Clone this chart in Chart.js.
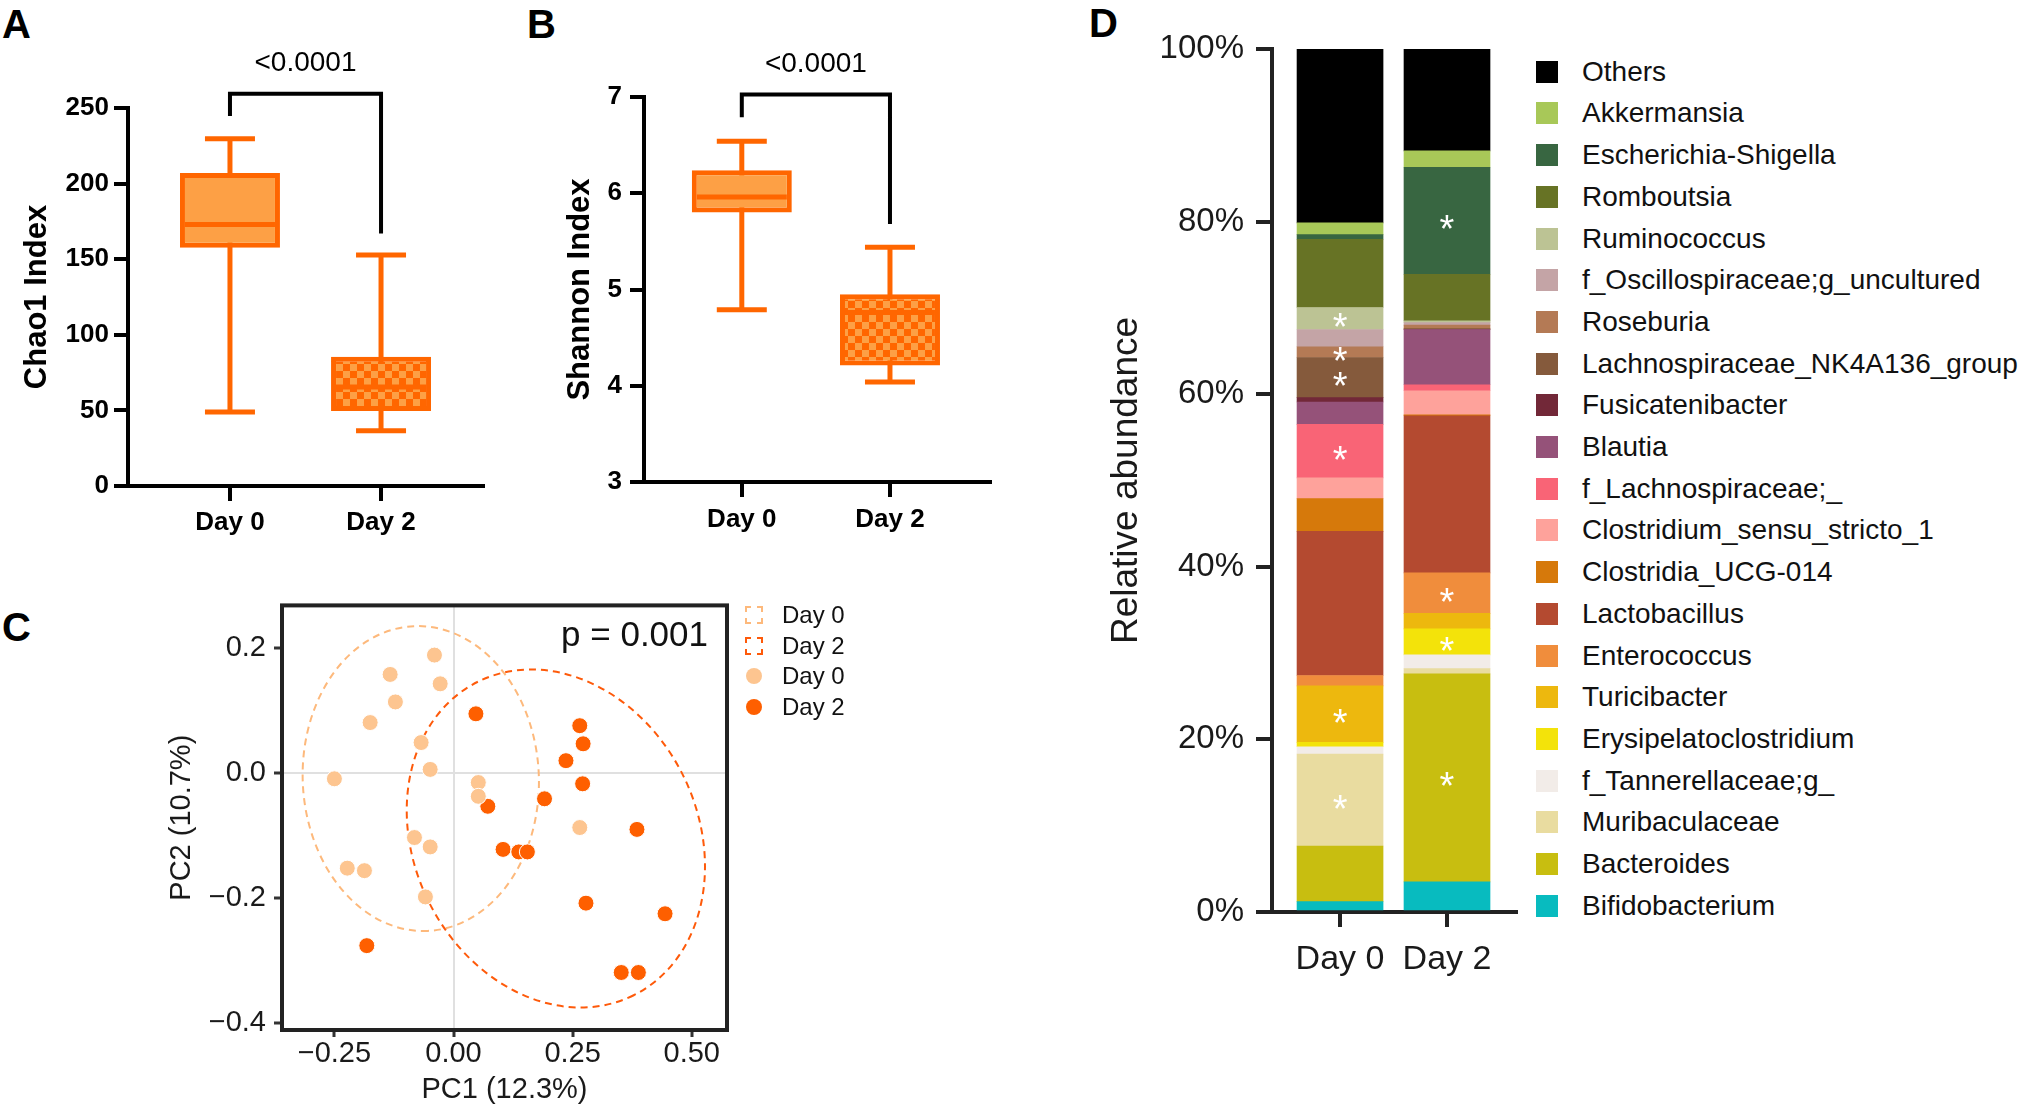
<!DOCTYPE html>
<html>
<head>
<meta charset="utf-8">
<title>Diversity and composition, Day 0 vs Day 2</title>
<script src="https://cdn.jsdelivr.net/npm/chart.js@4.4.1/dist/chart.umd.min.js"></script>
<style>
	body { margin: 0; width: 2040px; height: 1111px; position: relative; overflow: hidden; background: #ffffff; font-family: "Liberation Sans", Arial, sans-serif; }
	canvas { position: absolute; }
	.letter { position: absolute; font-weight: bold; font-size: 40px; line-height: 40px; color: #000; }
	.row { position: absolute; white-space: nowrap; }
	.mark { position: absolute; box-sizing: border-box; }
</style>
</head>
<body>
<div class="letter" style="left:2px;top:4px">A</div>
<div class="letter" style="left:527px;top:4px">B</div>
<div class="letter" style="left:2px;top:607px">C</div>
<div class="letter" style="left:1089px;top:3px">D</div>
<canvas id="chao" width="540" height="560" style="left:0;top:0"></canvas>
<canvas id="shannon" width="500" height="560" style="left:540px;top:0"></canvas>
<canvas id="pcoa" width="640" height="531" style="left:150px;top:580px"></canvas>
<canvas id="abundance" width="450" height="1000" style="left:1085px;top:0"></canvas>
<div id="pcoa-legend"></div>
<div id="abundance-legend"></div>
<script>
/* data */

var boxGroups = ['Day 0', 'Day 2'];

var chaoMin = [48.9, 36.6];
var chaoQ1 = [157.5, 49.6];
var chaoMedian = [173, 65.4];
var chaoQ3 = [207, 85.5];
var chaoMax = [229.7, 152.7];
var chaoTicks = [0, 50, 100, 150, 200, 250];
var chaoBracket = [244.7, 259.5, 167];
var chaoP = '<0.0001';

var shannonMin = [4.79, 4.04];
var shannonQ1 = [5.80, 4.21];
var shannonMedian = [5.96, 4.76];
var shannonQ3 = [6.24, 4.95];
var shannonMax = [6.54, 5.44];
var shannonTicks = [3, 4, 5, 6, 7];
var shannonBracket = [6.79, 7.025, 5.68];
var shannonP = '<0.0001';

var pcoaDay0X = [-0.040, -0.133, -0.028, -0.122, -0.175, -0.068, -0.049, -0.250, 0.052, 0.052, -0.082, -0.049, -0.223, -0.187, -0.059, 0.265];
var pcoaDay0Y = [0.188, 0.157, 0.142, 0.113, 0.080, 0.048, 0.005, -0.010, -0.016, -0.038, -0.104, -0.119, -0.153, -0.157, -0.199, -0.088];
var pcoaDay2X = [0.047, 0.072, 0.104, 0.137, 0.155, -0.182, 0.191, 0.265, 0.272, 0.236, 0.271, 0.385, 0.278, 0.444, 0.352, 0.388];
var pcoaDay2Y = [0.094, -0.054, -0.123, -0.127, -0.127, -0.277, -0.042, 0.075, 0.046, 0.019, -0.018, -0.091, -0.209, -0.226, -0.320, -0.320];
var pcoaXTicks = [-0.25, 0, 0.25, 0.5];
var pcoaXTickLabels = ['\u22120.25', '0.00', '0.25', '0.50'];
var pcoaYTicks = [0.2, 0, -0.2, -0.4];
var pcoaYTickLabels = ['0.2', '0.0', '\u22120.2', '\u22120.4'];
var pcoaP = 'p = 0.001';

// ellipse per group: centre, half extent in x and y, x shift of the top point
var ellipseCenterX = [-0.0687, 0.2148];
var ellipseCenterY = [-0.0096, -0.1055];
var ellipseHalfWidth = [0.248, 0.313];
var ellipseHalfHeight = [0.244, 0.2705];
var ellipseTopShift = [-0.0059, -0.0518];

var barGroups = ['Day 0', 'Day 2'];
var genera = ['Bifidobacterium', 'Bacteroides', 'Muribaculaceae', 'f_Tannerellaceae;g_', 'Erysipelatoclostridium', 'Turicibacter', 'Enterococcus', 'Lactobacillus', 'Clostridia_UCG-014', 'Clostridium_sensu_stricto_1', 'f_Lachnospiraceae;_', 'Blautia', 'Fusicatenibacter', 'Lachnospiraceae_NK4A136_group', 'Roseburia', 'f_Oscillospiraceae;g_uncultured', 'Ruminococcus', 'Romboutsia', 'Escherichia-Shigella', 'Akkermansia', 'Others'];
var abundanceDay0 = [1.2, 6.45, 10.65, 0.85, 0.5, 6.55, 1.2, 16.7, 3.8, 2.4, 6.2, 2.6, 0.5, 4.65, 1.25, 2.0, 2.55, 7.9, 0.55, 1.35, 20.15];
var abundanceDay2 = [3.5, 24.1, 0.6, 1.6, 3.0, 1.8, 4.7, 18.2, 0.1, 2.8, 0.7, 6.4, 0.03, 0.07, 0.4, 0.3, 0.2, 5.4, 12.4, 1.9, 11.8];
var generaColors = ['#08bbbf', '#c8be10', '#e9dca0', '#f2ece8', '#f3e30a', '#edb80e', '#f08d3c', '#b44a30', '#d6790b', '#fea29b', '#f96476', '#955279', '#722838', '#855a3c', '#b47a55', '#c4a4a6', '#bcc394', '#677325', '#386641', '#a8c858', '#000000'];
var starredDay0 = ['Ruminococcus', 'Roseburia', 'Lachnospiraceae_NK4A136_group', 'f_Lachnospiraceae;_', 'Turicibacter', 'Muribaculaceae'];
var starredDay2 = ['Escherichia-Shigella', 'Enterococcus', 'Erysipelatoclostridium', 'Bacteroides'];
var abundanceTicks = [0, 20, 40, 60, 80, 100];

/* common */

var fontFamily = '"Liberation Sans", Arial, sans-serif';
Chart.defaults.font.family = fontFamily;
Chart.defaults.animation = false;
Chart.defaults.events = [];
Chart.defaults.plugins.legend.display = false;
Chart.defaults.plugins.tooltip.enabled = false;

var orange = '#ff6600';
var peach = '#fda045';
var day0Color = '#fdc590';
var day2Color = '#fe5f00';
var day0Line = '#fdb97c';
var day2Line = '#fe5a0a';

var setTicks = function(values) {
	return function(axis) {
		axis.ticks = values.map(function(v) { return { value: v }; });
	};
};

var checker = function(ctx, base, square, size) {
	var tile = document.createElement('canvas');
	tile.width = size * 2;
	tile.height = size * 2;
	var g = tile.getContext('2d');
	g.fillStyle = base;
	g.fillRect(0, 0, size * 2, size * 2);
	g.fillStyle = square;
	g.fillRect(0, 0, size, size);
	g.fillRect(size, size, size, size);
	return ctx.createPattern(tile, 'repeat');
};

/* box plots */

var bracket = function(levels, label) {
	return {
		id: 'bracket',
		afterDraw: function(chart) {
			var ctx = chart.ctx;
			var x0 = chart.scales.x.getPixelForValue(0);
			var x1 = chart.scales.x.getPixelForValue(1);
			var yLeft = chart.scales.y.getPixelForValue(levels[0]);
			var yTop = chart.scales.y.getPixelForValue(levels[1]);
			var yRight = chart.scales.y.getPixelForValue(levels[2]);
			ctx.save();
			ctx.strokeStyle = '#000';
			ctx.lineWidth = 4;
			ctx.beginPath();
			ctx.moveTo(x0, yLeft);
			ctx.lineTo(x0, yTop);
			ctx.lineTo(x1, yTop);
			ctx.lineTo(x1, yRight);
			ctx.stroke();
			ctx.fillStyle = '#000';
			ctx.font = '28px ' + fontFamily;
			ctx.textAlign = 'center';
			ctx.textBaseline = 'middle';
			ctx.fillText(label, (x0 + x1) / 2, yTop - 30);
			ctx.restore();
		}
	};
};

var boxDatasets = function(lows, q1s, medians, q3s, highs, fills) {
	var caps = [];
	for (var i = 0; i < lows.length; i++) {
		caps.push({ x: i, y: lows[i] });
		caps.push({ x: i, y: highs[i] });
	}
	return [
		{ type: 'scatter', data: medians.map(function(m, i) { return { x: i, y: m }; }), pointStyle: 'line', pointRadius: 45, pointBorderColor: orange, pointBorderWidth: 5, showLine: false, order: 1 },
		{ type: 'scatter', data: caps, pointStyle: 'line', pointRadius: 25, pointBorderColor: orange, pointBorderWidth: 5, showLine: false, order: 1 },
		{ type: 'bar', data: q1s.map(function(q, i) { return { x: i, y: [q, q3s[i]] }; }), backgroundColor: fills, borderColor: orange, borderWidth: 5, borderSkipped: false, grouped: false, maxBarThickness: 100, order: 2 },
		{ type: 'bar', data: lows.map(function(l, i) { return { x: i, y: [l, highs[i]] }; }), backgroundColor: orange, borderWidth: 0, grouped: false, maxBarThickness: 5, order: 3 }
	];
};

var boxChart = function(id, datasets, yTicks, yMin, yMax, xMin, xMax, title, plugin, g) {
	var bold = { size: 26, weight: 'bold' };
	return new Chart(document.getElementById(id), {
		type: 'bar',
		data: { datasets: datasets },
		options: {
			responsive: false,
			layout: { padding: { left: 0, top: g.top, right: g.right, bottom: 0 } },
			scales: {
				x: {
					type: 'linear', min: xMin, max: xMax, offset: false,
					afterBuildTicks: setTicks([0, 1]),
					afterFit: function(s) { s.height = g.xHeight; },
					ticks: { callback: function(v, i) { return boxGroups[i]; }, font: bold, color: '#000', padding: g.xPad },
					grid: { offset: false, drawOnChartArea: false, color: '#000', lineWidth: 4, tickLength: 15 },
					border: { color: '#000', width: 4 }
				},
				y: {
					min: yMin, max: yMax,
					afterBuildTicks: setTicks(yTicks),
					afterFit: function(s) { s.width = g.yWidth; },
					ticks: { callback: function(v) { return String(v); }, font: bold, color: '#000', padding: g.yPad },
					grid: { drawOnChartArea: false, color: '#000', lineWidth: 4, tickLength: 14 },
					border: { color: '#000', width: 4 },
					title: { display: true, text: title, font: { size: 31, weight: 'bold' }, color: '#000', padding: { top: g.titlePad, bottom: 0 } }
				}
			}
		},
		plugins: [plugin]
	});
};

var chaoCtx = document.getElementById('chao').getContext('2d');
boxChart('chao', boxDatasets(chaoMin, chaoQ1, chaoMedian, chaoQ3, chaoMax, [peach, checker(chaoCtx, orange, peach, 7)]),
	chaoTicks, 0, 250, -0.675, 1.675, 'Chao1 Index', bracket(chaoBracket, chaoP),
	{ top: 108, right: 57, xHeight: 74, yWidth: 128, xPad: 6, yPad: 5, titlePad: 19 });

var shannonCtx = document.getElementById('shannon').getContext('2d');
boxChart('shannon', boxDatasets(shannonMin, shannonQ1, shannonMedian, shannonQ3, shannonMax, [peach, checker(shannonCtx, orange, peach, 7)]),
	shannonTicks, 3, 7, -0.66, 1.675, 'Shannon Index', bracket(shannonBracket, shannonP),
	{ top: 97, right: 36, xHeight: 78, yWidth: 104, xPad: 7, yPad: 8, titlePad: 22 });

/* PCoA */

var drawEllipse = function(chart, i, color) {
	var xs = chart.scales.x;
	var ys = chart.scales.y;
	var ctx = chart.ctx;
	var cx = xs.getPixelForValue(ellipseCenterX[i]);
	var cy = ys.getPixelForValue(ellipseCenterY[i]);
	var w = Math.abs(xs.getPixelForValue(ellipseCenterX[i] + ellipseHalfWidth[i]) - cx);
	var h = Math.abs(ys.getPixelForValue(ellipseCenterY[i] + ellipseHalfHeight[i]) - cy);
	var shift = xs.getPixelForValue(ellipseCenterX[i] + ellipseTopShift[i]) - cx;
	var sxx = w * w;
	var syy = h * h;
	var sxy = -shift * h;
	var tr = sxx + syy;
	var disc = Math.sqrt(tr * tr / 4 - (sxx * syy - sxy * sxy));
	var theta = 0.5 * Math.atan2(2 * sxy, sxx - syy);
	ctx.save();
	ctx.strokeStyle = color;
	ctx.lineWidth = 2;
	ctx.setLineDash([7, 5]);
	ctx.beginPath();
	ctx.ellipse(cx, cy, Math.sqrt(tr / 2 + disc), Math.sqrt(tr / 2 - disc), theta, 0, Math.PI * 2);
	ctx.stroke();
	ctx.restore();
};

var pcoaExtras = {
	id: 'pcoaExtras',
	beforeDatasetsDraw: function(chart) {
		drawEllipse(chart, 0, day0Line);
		drawEllipse(chart, 1, day2Line);
	},
	afterDraw: function(chart) {
		var a = chart.chartArea;
		var ctx = chart.ctx;
		ctx.save();
		ctx.strokeStyle = '#222';
		ctx.lineWidth = 4;
		ctx.strokeRect(a.left, a.top, a.right - a.left, a.bottom - a.top);
		ctx.fillStyle = '#111';
		ctx.font = '35px ' + fontFamily;
		ctx.textAlign = 'right';
		ctx.textBaseline = 'middle';
		ctx.fillText(pcoaP, a.right - 19, a.top + 31);
		ctx.restore();
	}
};

var zeroLine = function(c) {
	return c.tick && c.tick.value === 0 ? '#e0e0e0' : 'rgba(0,0,0,0)';
};

var toPoints = function(xs, ys) {
	return xs.map(function(x, i) { return { x: x, y: ys[i] }; });
};

new Chart(document.getElementById('pcoa'), {
	type: 'scatter',
	data: {
		datasets: [
			{ label: 'Day 0', data: toPoints(pcoaDay0X, pcoaDay0Y), backgroundColor: day0Color, borderColor: '#ffffff', borderWidth: 1, pointRadius: 8 },
			{ label: 'Day 2', data: toPoints(pcoaDay2X, pcoaDay2Y), backgroundColor: day2Color, borderColor: '#ffffff', borderWidth: 1, pointRadius: 8 }
		]
	},
	options: {
		responsive: false,
		layout: { padding: { left: 0, top: 17, right: 63, bottom: 0 } },
		scales: {
			x: {
				type: 'linear', min: -0.36, max: 0.574,
				afterBuildTicks: setTicks(pcoaXTicks),
				afterFit: function(s) { s.height = 81; },
				ticks: { callback: function(v, i) { return pcoaXTickLabels[i]; }, font: { size: 29 }, color: '#1a1a1a', padding: 0 },
				grid: { color: zeroLine, lineWidth: 2, tickColor: '#333', tickWidth: 3, tickLength: 7 },
				border: { display: false },
				title: { display: true, text: 'PC1 (12.3%)', font: { size: 29 }, color: '#1a1a1a', padding: { top: 0, bottom: 4 } }
			},
			y: {
				type: 'linear', min: -0.412, max: 0.2675,
				afterBuildTicks: setTicks(pcoaYTicks),
				afterFit: function(s) { s.width = 132; },
				ticks: { callback: function(v, i) { return pcoaYTickLabels[i]; }, font: { size: 29 }, color: '#1a1a1a', padding: 8 },
				grid: { color: zeroLine, lineWidth: 2, tickColor: '#333', tickWidth: 3, tickLength: 8 },
				border: { display: false },
				title: { display: true, text: 'PC2 (10.7%)', font: { size: 29 }, color: '#1a1a1a', padding: { top: 15, bottom: 0 } }
			}
		}
	},
	plugins: [pcoaExtras]
});

var pcoaLegend = document.getElementById('pcoa-legend');
var pcoaRows = [
	{ label: boxGroups[0], kind: 'ellipse', color: day0Line },
	{ label: boxGroups[1], kind: 'ellipse', color: day2Line },
	{ label: boxGroups[0], kind: 'point', color: day0Color },
	{ label: boxGroups[1], kind: 'point', color: day2Color }
];
pcoaRows.forEach(function(item, i) {
	var top = 600 + i * 30.5;
	var mark = document.createElement('div');
	mark.className = 'mark';
	if (item.kind == 'ellipse') {
		mark.style.cssText = 'left:745px;top:' + (top + 6) + 'px;width:18px;height:18px;border:2px dashed ' + item.color + ';';
	} else {
		mark.style.cssText = 'left:746px;top:' + (top + 7) + 'px;width:16px;height:16px;border-radius:50%;background:' + item.color + ';';
	}
	pcoaLegend.appendChild(mark);
	var text = document.createElement('div');
	text.className = 'row';
	text.style.cssText = 'left:782px;top:' + top + 'px;height:30px;line-height:30px;font-size:24px;color:#111;';
	text.textContent = item.label;
	pcoaLegend.appendChild(text);
});

/* relative abundance */

var starPlugin = {
	id: 'stars',
	afterDatasetsDraw: function(chart) {
		var ctx = chart.ctx;
		var size = 38;
		ctx.save();
		ctx.fillStyle = '#ffffff';
		ctx.font = size + 'px ' + fontFamily;
		ctx.textAlign = 'center';
		ctx.textBaseline = 'alphabetic';
		genera.forEach(function(name, i) {
			var bars = chart.getDatasetMeta(i).data;
			[starredDay0, starredDay2].forEach(function(list, j) {
				if (list.indexOf(name) >= 0) {
					var bar = bars[j];
					var middle = (bar.y + bar.base) / 2;
					ctx.fillText('*', bar.x, middle + size * 0.57);
				}
			});
		});
		ctx.restore();
	}
};

new Chart(document.getElementById('abundance'), {
	type: 'bar',
	data: {
		datasets: genera.map(function(name, i) {
			return {
				label: name,
				data: [{ x: 0, y: abundanceDay0[i] }, { x: 1, y: abundanceDay2[i] }],
				backgroundColor: generaColors[i],
				borderWidth: 0,
				barThickness: 86
			};
		})
	},
	options: {
		responsive: false,
		layout: { padding: { left: 0, top: 49, right: 19, bottom: 0 } },
		scales: {
			x: {
				type: 'linear', min: -0.636, max: 1.645, stacked: true, offset: false,
				afterBuildTicks: setTicks([0, 1]),
				afterFit: function(s) { s.height = 88; },
				ticks: { callback: function(v, i) { return barGroups[i]; }, font: { size: 34 }, color: '#1a1a1a', padding: 12 },
				grid: { offset: false, drawOnChartArea: false, color: '#222', lineWidth: 4, tickLength: 15 },
				border: { color: '#222', width: 4 }
			},
			y: {
				min: 0, max: 100, stacked: true,
				afterBuildTicks: setTicks(abundanceTicks),
				afterFit: function(s) { s.width = 187; },
				ticks: { callback: function(v) { return v + '%'; }, font: { size: 33 }, color: '#1a1a1a', padding: 12 },
				grid: { drawOnChartArea: false, color: '#222', lineWidth: 4, tickLength: 16 },
				border: { color: '#222', width: 4 },
				title: { display: true, text: 'Relative abundance', font: { size: 37 }, color: '#1a1a1a', padding: { top: 20, bottom: 0 } }
			}
		}
	},
	plugins: [starPlugin]
});

var abundanceLegend = document.getElementById('abundance-legend');
for (var k = genera.length - 1, row = 0; k >= 0; k--, row++) {
	var center = 71.7 + row * 41.7;
	var swatch = document.createElement('div');
	swatch.className = 'mark';
	swatch.style.cssText = 'left:1536px;top:' + (center - 11) + 'px;width:22px;height:22px;background:' + generaColors[k] + ';';
	abundanceLegend.appendChild(swatch);
	var label = document.createElement('div');
	label.className = 'row';
	label.style.cssText = 'left:1582px;top:' + (center - 21) + 'px;height:42px;line-height:42px;font-size:28px;color:#111;';
	label.textContent = genera[k];
	abundanceLegend.appendChild(label);
}
</script>
</body>
</html>
